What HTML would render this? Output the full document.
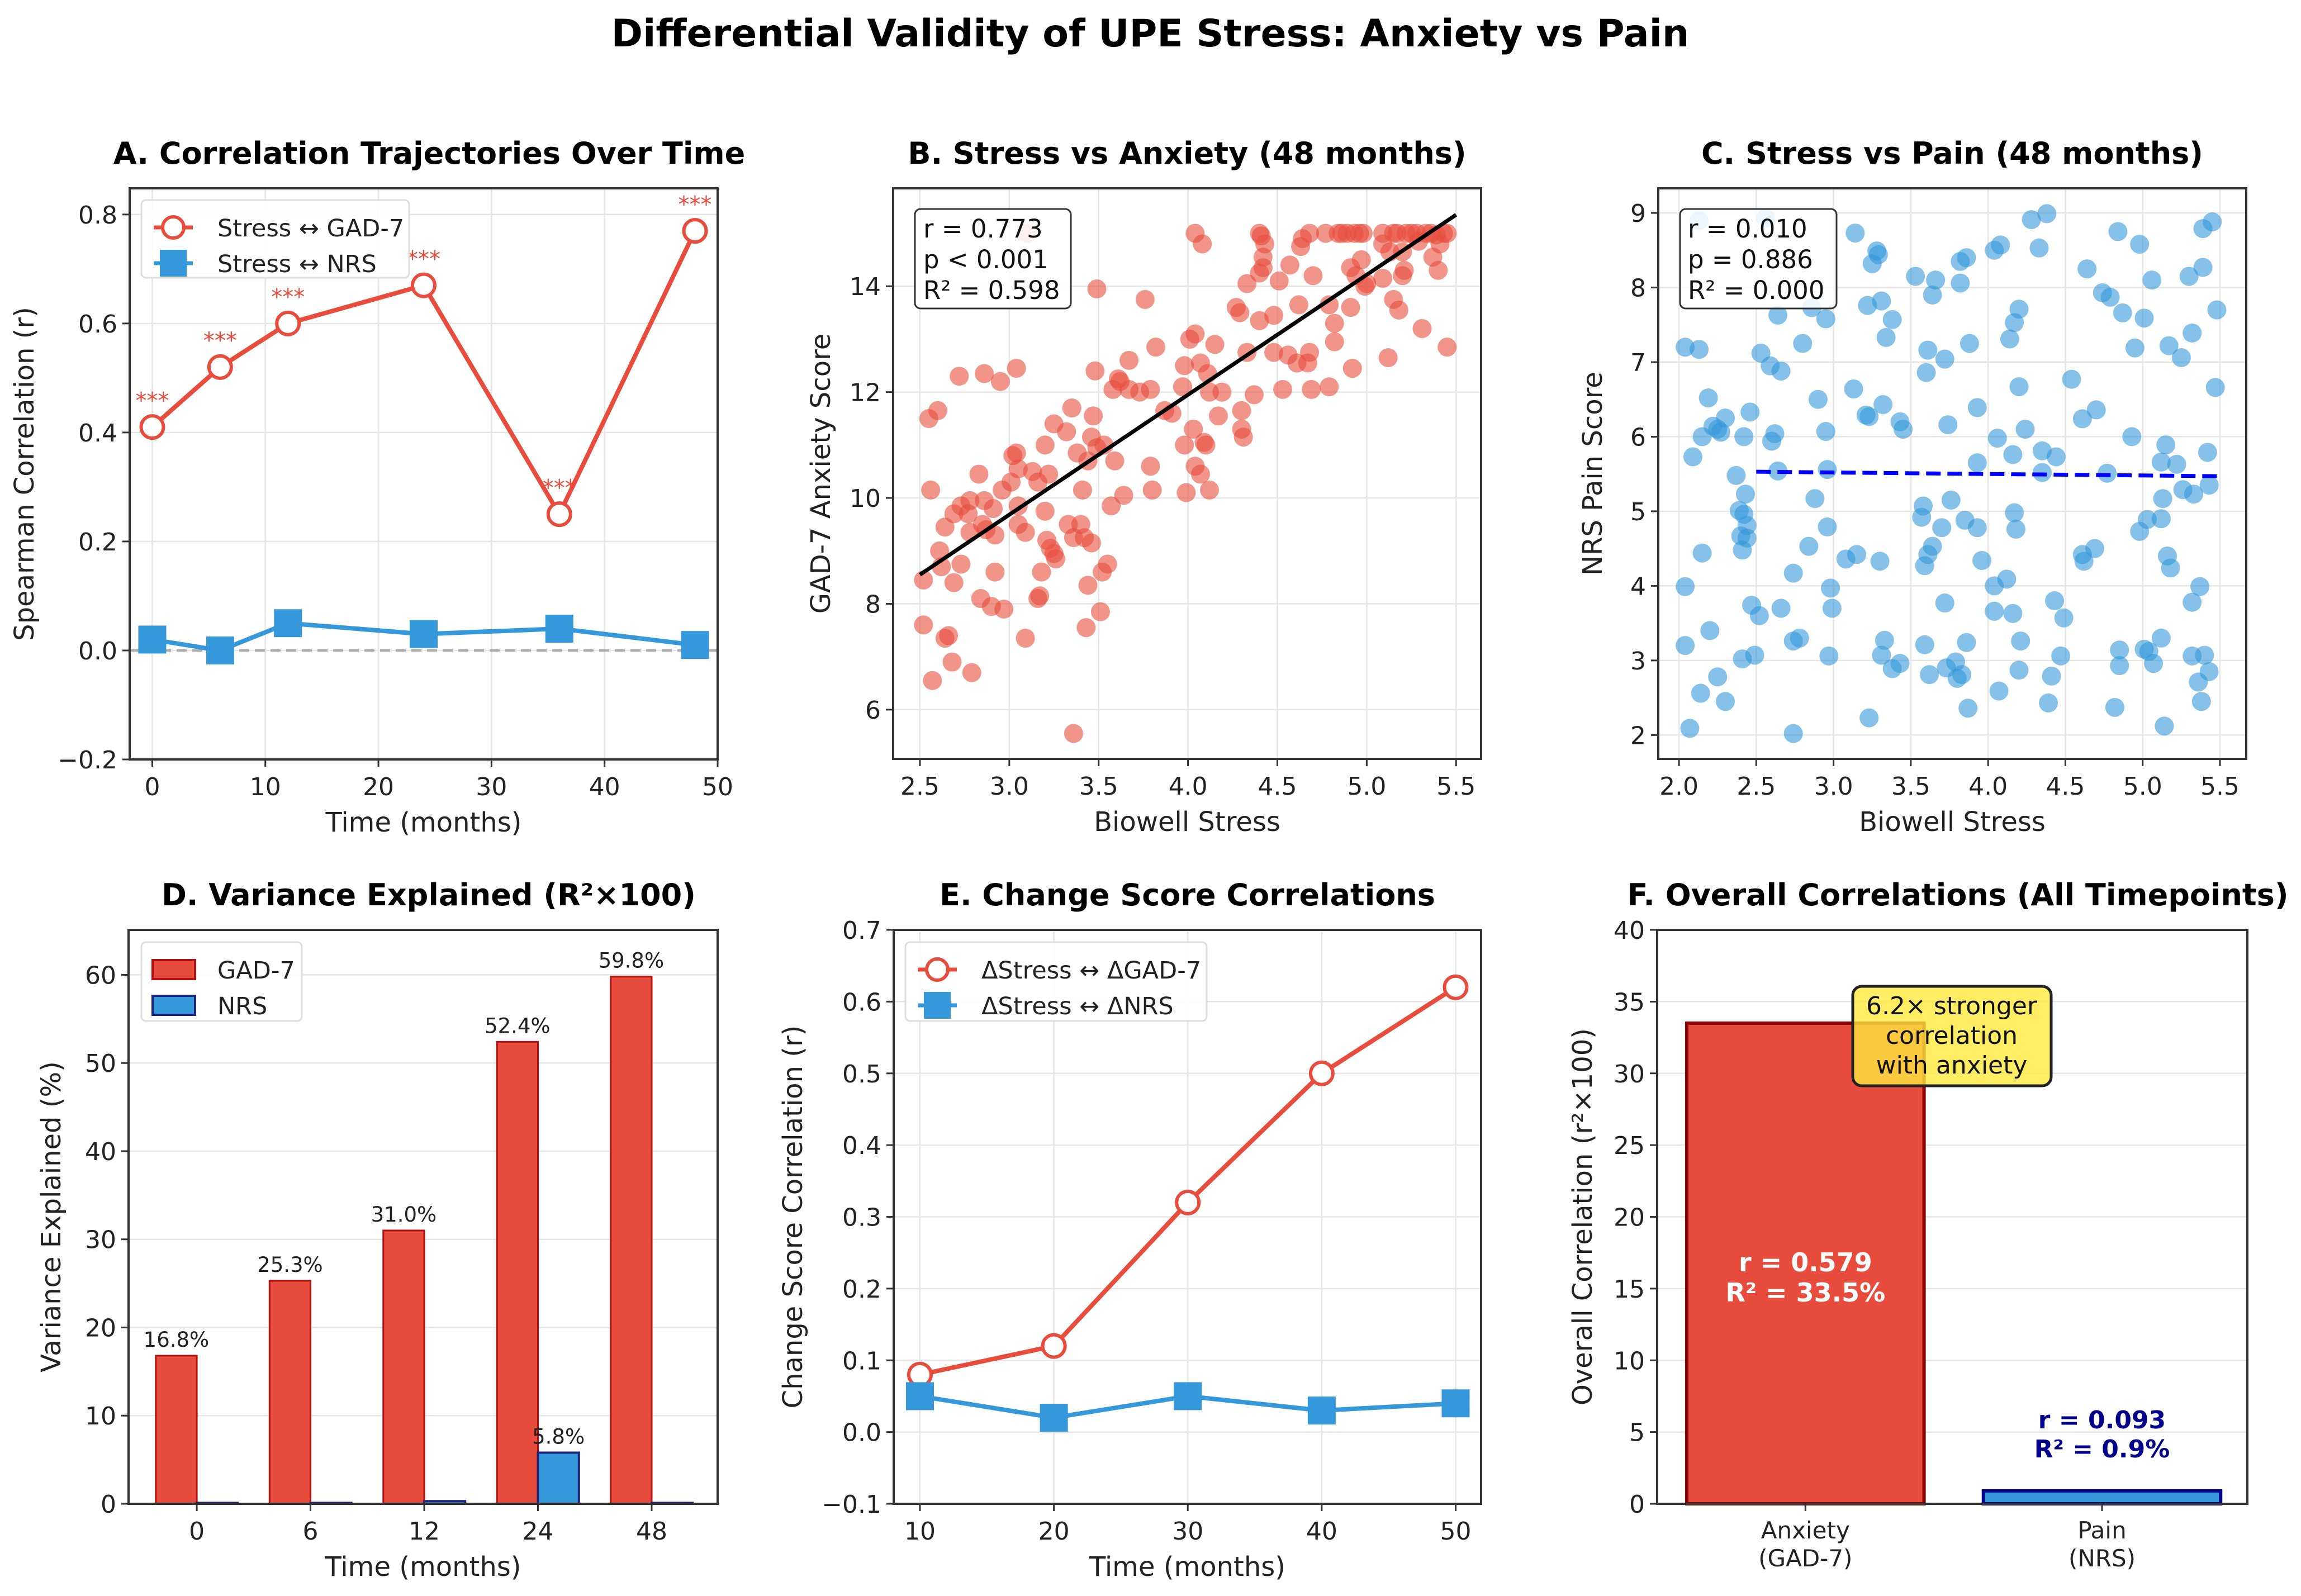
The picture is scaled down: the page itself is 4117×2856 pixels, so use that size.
<!DOCTYPE html>
<html><head><meta charset="utf-8">
<style>
html,body{margin:0;padding:0;background:#fff;}
svg{display:block;font-family:"DejaVu Sans","Liberation Sans",sans-serif;}
</style></head>
<body>
<svg id="fig" xmlns="http://www.w3.org/2000/svg" width="4117" height="2856" viewBox="0 0 4117 2856">
<rect width="4117" height="2856" fill="#fff"/>
<text x="2058" y="83" font-size="68" font-weight="bold" text-anchor="middle" fill="#000">Differential Validity of UPE Stress: Anxiety vs Pain</text>
</svg>
<script>
// ---------- Panel A data ----------
const aTimes = [0, 6, 12, 24, 36, 48];
const aGad = [0.41, 0.52, 0.60, 0.67, 0.25, 0.77];
const aNrs = [0.02, 0.0, 0.05, 0.03, 0.04, 0.01];
const aStars = ["***", "***", "***", "***", "***", "***"];
const aXTicks = [0, 10, 20, 30, 40, 50];
const aYTicks = [-0.2, 0.0, 0.2, 0.4, 0.6, 0.8];
// ---------- Panel B data ----------
const bX = [2.52,2.52,2.57,2.55,2.6,2.56,2.61,2.64,2.62,2.64,2.66,2.68,2.69,2.69,2.73,2.72,2.73,2.77,2.78,2.78,2.79,2.83,2.84,2.85,2.86,2.86,2.87,2.91,2.92,2.92,2.90,2.95,2.96,2.97,3.01,3.02,3.04,3.04,3.05,3.05,3.05,3.09,3.09,3.1,3.13,3.16,3.20,3.20,3.22,3.18,3.16,3.17,3.21,3.23,3.25,3.26,3.25,3.32,3.35,3.33,3.36,3.40,3.38,3.41,3.42,3.44,3.44,3.43,3.46,3.46,3.47,3.48,3.49,3.49,3.51,3.52,3.55,3.36,3.53,3.57,3.59,3.58,3.61,3.62,3.64,3.67,3.67,3.73,3.76,3.79,3.79,3.80,3.82,3.87,3.91,3.97,3.98,3.98,3.99,4.01,4.04,4.03,4.04,4.07,4.07,4.04,4.08,4.09,4.10,4.11,4.12,4.12,4.15,4.17,4.19,4.27,4.29,4.30,4.30,4.31,4.33,4.33,4.37,4.40,4.40,4.41,4.40,4.42,4.43,4.42,4.48,4.48,4.51,4.53,4.56,4.57,4.62,4.61,4.63,4.64,4.68,4.67,4.68,4.69,4.70,4.77,4.79,4.79,4.82,4.82,4.84,4.86,4.89,4.91,4.91,4.93,4.92,4.94,4.96,4.97,4.98,4.99,5.0,5.09,5.09,5.09,5.12,5.13,5.15,5.15,5.17,5.18,5.20,5.21,5.20,5.22,5.25,5.28,5.29,5.31,5.33,5.36,5.37,5.39,5.40,5.41,5.43,5.45,5.45];
const bY = [8.45,7.6,6.55,11.5,11.65,10.15,9.0,9.45,8.7,7.35,7.4,6.9,8.4,9.7,8.75,12.3,9.85,9.7,9.95,9.35,6.7,10.45,8.1,9.5,9.95,12.35,9.4,9.8,9.3,8.6,7.95,12.2,10.15,7.9,10.3,10.8,10.85,12.45,10.55,9.85,9.5,9.35,7.35,15.0,10.5,10.3,11.0,9.75,10.45,8.6,8.1,8.15,9.2,9.05,8.95,8.85,11.4,11.25,11.7,9.5,9.25,9.5,10.85,10.15,9.25,10.7,8.35,7.55,9.15,11.15,11.55,12.4,10.95,13.95,7.85,8.6,8.75,5.55,11.0,9.85,10.7,12.05,12.25,12.2,10.05,12.05,12.6,12.0,13.75,12.05,10.6,10.15,12.85,11.65,11.6,12.1,12.5,11.0,10.1,13.0,13.1,11.3,10.6,10.45,12.55,15.0,14.8,11.05,11.0,12.35,12.0,10.15,12.9,11.55,12.0,13.6,13.5,11.65,11.3,11.15,12.75,14.05,11.95,13.35,15.0,14.95,14.25,14.55,14.8,14.35,13.45,12.75,14.1,12.05,12.7,14.4,13.65,12.55,14.75,14.9,15.0,12.55,12.75,12.05,14.2,15.0,13.65,12.1,13.3,12.95,15.0,15.0,15.0,13.6,14.35,15.0,12.45,14.2,15.0,14.5,15.0,14.0,14.05,15.0,14.8,14.15,12.65,14.65,15.0,13.75,15.0,13.55,14.2,14.3,14.65,15.0,15.0,15.0,14.85,13.2,15.0,15.0,14.55,14.97,14.3,14.8,15.0,12.85,15.0];
const bFitX = [2.5, 5.5];
const bFitY = [8.55, 15.35];
const bXTicks = [2.5, 3.0, 3.5, 4.0, 4.5, 5.0, 5.5];
const bYTicks = [6, 8, 10, 12, 14];
const bStats = ["r = 0.773", "p < 0.001", "R\u00b2 = 0.598"];
// ---------- Panel C data ----------
const cX = [2.04,2.13,2.04,2.04,2.07,2.09,2.13,2.15,2.15,2.14,2.19,2.2,2.22,2.25,2.27,2.30,2.25,2.30,2.37,2.39,2.40,2.41,2.42,2.42,2.43,2.44,2.44,2.46,2.47,2.41,2.49,2.52,2.53,2.59,2.60,2.62,2.64,2.64,2.66,2.66,2.56,2.74,2.74,2.78,2.74,2.80,2.84,2.86,2.90,2.88,2.95,2.95,2.96,2.96,2.98,2.99,2.97,3.08,3.14,3.13,3.15,3.21,3.23,3.22,3.25,3.28,3.29,3.31,3.32,3.30,3.33,3.31,3.38,3.23,3.34,3.38,3.43,3.43,3.45,3.53,3.57,3.58,3.59,3.61,3.64,3.61,3.60,3.59,3.62,3.66,3.64,3.70,3.72,3.72,3.73,3.74,3.76,3.79,3.80,3.83,3.82,3.82,3.86,3.85,3.86,3.88,3.87,3.93,3.93,3.93,3.96,4.04,4.08,4.06,4.04,4.04,4.07,4.12,4.14,4.16,4.16,4.17,4.18,4.17,4.20,4.20,4.20,4.21,4.24,4.28,4.33,4.38,4.35,4.35,4.44,4.43,4.41,4.39,4.49,4.47,4.54,4.61,4.64,4.61,4.62,4.69,4.70,4.74,4.79,4.77,4.84,4.82,4.85,4.85,4.87,4.93,4.95,4.98,4.98,5.01,5.01,5.04,5.03,5.06,5.07,5.12,5.12,5.12,5.13,5.15,5.14,5.16,5.18,5.17,5.22,5.25,5.26,5.30,5.32,5.33,5.32,5.32,5.37,5.36,5.39,5.38,5.39,5.40,5.42,5.43,5.43,5.45,5.47,5.48];
const cY = [7.2,7.17,3.99,3.2,2.09,5.73,8.9,6.0,4.44,2.56,6.52,3.4,6.14,6.1,6.06,6.25,2.78,2.45,5.48,5.01,4.67,4.48,4.96,6.0,5.23,4.81,4.64,6.33,3.74,3.02,3.07,3.6,7.12,6.95,5.94,6.04,5.54,7.63,6.88,3.7,8.93,4.17,3.26,3.3,2.02,7.25,4.53,7.73,6.5,5.17,6.07,7.58,5.56,4.79,3.97,3.7,3.06,4.36,8.73,6.64,4.42,6.29,6.27,7.76,8.32,8.49,8.44,7.82,6.43,4.33,3.27,3.07,2.89,2.23,7.33,7.57,2.96,6.2,6.1,8.15,4.92,5.07,4.27,4.42,4.53,7.16,6.86,3.21,2.81,8.1,7.9,4.78,7.04,3.77,2.9,6.16,5.15,2.98,2.76,2.81,8.35,8.06,8.4,4.88,3.24,7.25,2.36,6.39,5.65,4.78,4.34,8.5,8.57,5.98,4.0,3.66,2.59,4.09,7.31,5.76,3.63,4.98,4.76,7.53,7.71,6.67,2.87,3.26,6.1,8.91,8.53,8.99,5.81,5.52,5.73,3.8,2.79,2.43,3.57,3.06,6.77,6.24,8.25,4.42,4.33,4.5,6.36,7.93,7.87,5.51,8.75,2.37,3.14,2.93,7.66,6.0,7.19,4.73,8.58,7.59,3.15,3.12,4.89,8.1,2.96,4.9,3.3,5.66,5.17,5.89,2.12,4.4,4.24,7.22,5.63,7.06,5.29,8.15,7.39,5.23,3.78,3.06,3.99,2.71,8.27,2.45,8.79,3.07,5.79,5.35,2.85,8.88,6.66,7.7];
const cFitX = [2.5, 5.5];
const cFitY = [5.53, 5.47];
const cXTicks = [2.0, 2.5, 3.0, 3.5, 4.0, 4.5, 5.0, 5.5];
const cYTicks = [2, 3, 4, 5, 6, 7, 8, 9];
const cStats = ["r = 0.010", "p = 0.886", "R\u00b2 = 0.000"];
// ---------- Panel D data ----------
const dCats = ["0", "6", "12", "24", "48"];
const dGad = [16.8, 25.3, 31.0, 52.4, 59.8];
const dNrs = [0.1, 0.1, 0.3, 5.8, 0.1];
const dYTicks = [0, 10, 20, 30, 40, 50, 60];
// ---------- Panel E data ----------
const eTimes = [10, 20, 30, 40, 50];
const eGad = [0.08, 0.12, 0.32, 0.50, 0.62];
const eNrs = [0.05, 0.02, 0.05, 0.03, 0.04];
const eXTicks = [10, 20, 30, 40, 50];
const eYTicks = [-0.1, 0.0, 0.1, 0.2, 0.3, 0.4, 0.5, 0.6, 0.7];
// ---------- Panel F data ----------
const fCats = [["Anxiety", "(GAD-7)"], ["Pain", "(NRS)"]];
const fVals = [33.5, 0.9];
const fR = ["r = 0.579", "r = 0.093"];
const fR2 = ["R\u00b2 = 33.5%", "R\u00b2 = 0.9%"];
const fYTicks = [0, 5, 10, 15, 20, 25, 30, 35, 40];

const NS = "http://www.w3.org/2000/svg";
const svg = document.getElementById("fig");
const RED = "#e74c3c", BLUE = "#3498db";

function mk(tag, attrs, parent, name, inter) {
  const e = document.createElementNS(NS, tag);
  for (const k in attrs) e.setAttribute(k, attrs[k]);
  
  
  (parent || svg).appendChild(e);
  return e;
}
function txt(s, attrs, parent, name) {
  const t = mk("text", attrs, parent, name, false);
  t.textContent = s;
  return t;
}
function fmt(v, d) { const s = v.toFixed(d); return v < 0 ? "\u2212" + s.slice(1) : s; }

function axes(p) {
  const g = mk("g", {}, svg, p.name, false);
  const sx = v => p.l + (v - p.x0) / (p.x1 - p.x0) * (p.r - p.l);
  const sy = v => p.b - (v - p.y0) / (p.y1 - p.y0) * (p.b - p.t);
  const grid = mk("g", {}, g, p.name + "-grid", false);
  if (p.xgrid) p.xt.forEach(v => { mk("line", {x1: sx(v), x2: sx(v), y1: p.t, y2: p.b, stroke: "#e6e6e6", "stroke-width": 2.5}, grid, "x-gridline", false); });
  p.yt.forEach(v => { mk("line", {x1: p.l, x2: p.r, y1: sy(v), y2: sy(v), stroke: "#e6e6e6", "stroke-width": 2.5}, grid, "y-gridline", false); });
  const plot = mk("g", {}, g, p.name + "-plot-area", false);
  const front = mk("g", {}, g, p.name + "-frame", false);
  const xa = mk("g", {}, front, "x-axis", false);
  const xs = p.xpos || p.xt.map(sx);
  xs.forEach((x, i) => {
    mk("line", {x1: x, x2: x, y1: p.b, y2: p.b + 13, stroke: "#333", "stroke-width": 3}, xa, "x-tick", false);
    const lab = p.xl[i];
    if (Array.isArray(lab)) {
      lab.forEach((s, j) => txt(s, {x: x, y: p.b + 62 + j * 50, "font-size": 42, "text-anchor": "middle", fill: "#222"}, xa, "x-tick-label"));
    } else txt(lab, {x: x, y: p.b + 64, "font-size": 44, "text-anchor": "middle", fill: "#222"}, xa, "x-tick-label");
  });
  const ya = mk("g", {}, front, "y-axis", false);
  p.yt.forEach((v, i) => {
    mk("line", {x1: p.l - 13, x2: p.l, y1: sy(v), y2: sy(v), stroke: "#333", "stroke-width": 3}, ya, "y-tick", false);
    txt(p.yl[i], {x: p.l - 22, y: sy(v) + 16, "font-size": 44, "text-anchor": "end", fill: "#222"}, ya, "y-tick-label");
  });
  mk("rect", {x: p.l, y: p.t, width: p.r - p.l, height: p.b - p.t, fill: "none", stroke: "#333", "stroke-width": 4}, front, "axes-frame", false);
  txt(p.title, {x: (p.l + p.r) / 2 + (p.tdx || 0), y: p.t - 44, "font-size": 54, "font-weight": "bold", "text-anchor": "middle", fill: "#000"}, g, "panel-title");
  txt(p.xlabel, {x: (p.l + p.r) / 2, y: p.b + 129, "font-size": 48, "text-anchor": "middle", fill: "#222"}, g, "x-axis-title");
  const yc = (p.t + p.b) / 2;
  txt(p.ylabel, {x: p.ylx, y: yc, "font-size": 48, "text-anchor": "middle", fill: "#222", transform: "rotate(-90 " + p.ylx + " " + yc + ")"}, g, "y-axis-title");
  return {g, plot, front, sx, sy};
}

function legend(parent, x, y, w, h, items, name) {
  const g = mk("g", {}, parent, name, true);
  mk("rect", {x: x, y: y, width: w, height: h, rx: 8, fill: "#fff", "fill-opacity": 0.85, stroke: "#dddddd", "stroke-width": 3}, g, "legend-frame", false);
  items.forEach((it, i) => {
    const cy = y + 49 + i * 64, mx = x + 57;
    const eg = mk("g", {}, g, "legend-entry", true);
    if (it.type === "patch") {
      mk("rect", {x: x + 20, y: cy - 17, width: 76, height: 34, fill: it.color, stroke: it.edge, "stroke-width": 4}, eg, "legend-swatch", false);
    } else {
      mk("line", {x1: x + 22, x2: x + 92, y1: cy, y2: cy, stroke: it.color, "stroke-width": 7}, eg, "legend-line", false);
      if (it.type === "circle") mk("circle", {cx: mx, cy: cy, r: 19, fill: "#fff", stroke: it.color, "stroke-width": 6}, eg, "legend-marker", false);
      else mk("rect", {x: mx - 24, y: cy - 24, width: 48, height: 48, fill: it.color}, eg, "legend-marker", false);
    }
    txt(it.label, {x: x + 136, y: cy + 16, "font-size": 43, fill: "#222"}, eg, "legend-label");
  });
}

function lineSeries(ax, xs, ys, color, marker, name) {
  const g = mk("g", {}, ax.plot, name, false);
  const pts = xs.map((x, i) => ax.sx(x) + "," + ax.sy(ys[i])).join(" ");
  mk("polyline", {points: pts, fill: "none", stroke: color, "stroke-width": 8, "stroke-linejoin": "round"}, g, name + "-line", false);
  xs.forEach((x, i) => {
    if (marker === "circle") mk("circle", {cx: ax.sx(x), cy: ax.sy(ys[i]), r: 20, fill: "#fff", stroke: color, "stroke-width": 6}, g, name + "-point", true);
    else mk("rect", {x: ax.sx(x) - 25, y: ax.sy(ys[i]) - 25, width: 50, height: 50, fill: color}, g, name + "-point", true);
  });
}

// ================= Panel A =================
(function(){
  const ax = axes({name: "panel-a", l: 232, r: 1284, t: 337, b: 1359, x0: -2, x1: 50, y0: -0.2, y1: 0.848,
    xt: aXTicks, xl: aXTicks.map(v => String(v)), yt: aYTicks, yl: aYTicks.map(v => fmt(v, 1)), xgrid: true,
    title: "A. Correlation Trajectories Over Time", xlabel: "Time (months)", ylabel: "Spearman Correlation (r)", ylx: 60, tdx: 10});
  mk("line", {x1: 232, x2: 1284, y1: ax.sy(0), y2: ax.sy(0), stroke: "#aaaaaa", "stroke-width": 4, "stroke-dasharray": "18 10"}, ax.plot, "zero-reference-line", false);
  lineSeries(ax, aTimes, aGad, RED, "circle", "stress-gad7-series");
  lineSeries(ax, aTimes, aNrs, BLUE, "square", "stress-nrs-series");
  aTimes.forEach((t, i) => {
    txt(aStars[i], {x: ax.sx(t), y: ax.sy(aGad[i] + 0.055) + 20, "font-size": 40, fill: RED, "text-anchor": "middle"}, ax.plot, "significance-stars");
  });
  legend(ax.plot, 253, 358, 479, 139, [{type: "circle", color: RED, label: "Stress \u2194 GAD-7"}, {type: "square", color: BLUE, label: "Stress \u2194 NRS"}], "legend");
})();

// ================= Panel B =================
(function(){
  const ax = axes({name: "panel-b", l: 1598, r: 2650, t: 337, b: 1358, x0: 2.35, x1: 5.64, y0: 5.07, y1: 15.85,
    xt: bXTicks, xl: bXTicks.map(v => v.toFixed(1)), yt: bYTicks, yl: bYTicks.map(v => String(v)), xgrid: true,
    title: "B. Stress vs Anxiety (48 months)", xlabel: "Biowell Stress", ylabel: "GAD-7 Anxiety Score", ylx: 1485});
  const g = mk("g", {}, ax.plot, "anxiety-scatter", false);
  bX.forEach((x, i) => { mk("circle", {cx: ax.sx(x), cy: ax.sy(bY[i]), r: 17, fill: RED, "fill-opacity": 0.6}, g, "scatter-point", true); });
  mk("line", {x1: ax.sx(bFitX[0]), y1: ax.sy(bFitY[0]), x2: ax.sx(bFitX[1]), y2: ax.sy(bFitY[1]), stroke: "#000", "stroke-width": 7}, ax.plot, "regression-line", false);
  const sg = mk("g", {}, ax.plot, "stats-box", false);
  mk("rect", {x: 1637, y: 374, width: 279, height: 178, rx: 10, fill: "#fff", "fill-opacity": 0.85, stroke: "#333", "stroke-width": 3}, sg, "stats-frame", false);
  bStats.forEach((s, i) => txt(s, {x: 1652, y: 425 + i * 55, "font-size": 45, fill: "#111"}, sg, "stats-text"));
})();

// ================= Panel C =================
(function(){
  const ax = axes({name: "panel-c", l: 2967, r: 4019, t: 337, b: 1358, x0: 1.866, x1: 5.67, y0: 1.68, y1: 9.33,
    xt: cXTicks, xl: cXTicks.map(v => v.toFixed(1)), yt: cYTicks, yl: cYTicks.map(v => String(v)), xgrid: true,
    title: "C. Stress vs Pain (48 months)", xlabel: "Biowell Stress", ylabel: "NRS Pain Score", ylx: 2866});
  const g = mk("g", {}, ax.plot, "pain-scatter", false);
  cX.forEach((x, i) => { mk("circle", {cx: ax.sx(x), cy: ax.sy(cY[i]), r: 17, fill: BLUE, "fill-opacity": 0.6}, g, "scatter-point", true); });
  mk("line", {x1: ax.sx(cFitX[0]), y1: ax.sy(cFitY[0]), x2: ax.sx(cFitX[1]), y2: ax.sy(cFitY[1]), stroke: "#0000ff", "stroke-width": 7, "stroke-dasharray": "26 12"}, ax.plot, "regression-line", false);
  const sg = mk("g", {}, ax.plot, "stats-box", false);
  mk("rect", {x: 3006, y: 374, width: 280, height: 178, rx: 10, fill: "#fff", "fill-opacity": 0.85, stroke: "#333", "stroke-width": 3}, sg, "stats-frame", false);
  cStats.forEach((s, i) => txt(s, {x: 3020, y: 425 + i * 55, "font-size": 45, fill: "#111"}, sg, "stats-text"));
})();

// ================= Panel D =================
(function(){
  const x0 = -0.6, x1 = 4.58, l = 230, r = 1284;
  const sxc = v => l + (v - x0) / (x1 - x0) * (r - l);
  const ax = axes({name: "panel-d", l: l, r: r, t: 1664, b: 2691, x0: x0, x1: x1, y0: 0, y1: 65.1,
    xt: dCats.map((c, i) => i), xl: dCats, yt: dYTicks, yl: dYTicks.map(v => String(v)), xgrid: false,
    title: "D. Variance Explained (R\u00b2\u00d7100)", xlabel: "Time (months)", ylabel: "Variance Explained (%)", ylx: 108, tdx: 10});
  const w = 0.36;
  const g1 = mk("g", {}, ax.plot, "gad7-bars", false);
  const g2 = mk("g", {}, ax.plot, "nrs-bars", false);
  dCats.forEach((c, i) => {
    const xa = sxc(i - w), xb = sxc(i), xc = sxc(i + w);
    mk("rect", {x: xa, y: ax.sy(dGad[i]), width: xb - xa, height: ax.sy(0) - ax.sy(dGad[i]), fill: RED, stroke: "#b01010", "stroke-width": 3}, g1, "bar-gad7-" + c, true);
    txt(dGad[i].toFixed(1) + "%", {x: (xa + xb) / 2, y: ax.sy(dGad[i]) - 16, "font-size": 37, "text-anchor": "middle", fill: "#222"}, g1, "bar-value-label");
    mk("rect", {x: xb, y: ax.sy(dNrs[i]), width: xc - xb, height: Math.max(ax.sy(0) - ax.sy(dNrs[i]), 1), fill: BLUE, stroke: "#1a237e", "stroke-width": 4}, g2, "bar-nrs-" + c, true);
    if (dNrs[i] > 1) txt(dNrs[i].toFixed(1) + "%", {x: (xb + xc) / 2, y: ax.sy(dNrs[i]) - 16, "font-size": 37, "text-anchor": "middle", fill: "#222"}, g2, "bar-value-label");
  });
  legend(ax.plot, 253, 1686, 287, 141, [{type: "patch", color: RED, edge: "#b01010", label: "GAD-7"}, {type: "patch", color: BLUE, edge: "#1a237e", label: "NRS"}], "legend");
})();

// ================= Panel E =================
(function(){
  const ax = axes({name: "panel-e", l: 1599, r: 2650, t: 1664, b: 2691, x0: 8.04, x1: 51.9, y0: -0.1, y1: 0.7,
    xt: eXTicks, xl: eXTicks.map(v => String(v)), yt: eYTicks, yl: eYTicks.map(v => fmt(v, 1)), xgrid: true,
    title: "E. Change Score Correlations", xlabel: "Time (months)", ylabel: "Change Score Correlation (r)", ylx: 1435});
  lineSeries(ax, eTimes, eGad, RED, "circle", "delta-gad7-series");
  lineSeries(ax, eTimes, eNrs, BLUE, "square", "delta-nrs-series");
  legend(ax.plot, 1620, 1686, 539, 141, [{type: "circle", color: RED, label: "\u0394Stress \u2194 \u0394GAD-7"}, {type: "square", color: BLUE, label: "\u0394Stress \u2194 \u0394NRS"}], "legend");
})();

// ================= Panel F =================
(function(){
  const x0 = -0.5, x1 = 1.49, l = 2965, r = 4021;
  const sxc = v => l + (v - x0) / (x1 - x0) * (r - l);
  const ax = axes({name: "panel-f", l: l, r: r, t: 1664, b: 2691, x0: x0, x1: x1, y0: 0, y1: 40,
    xt: [0, 1], xpos: [sxc(0), sxc(1)], xl: fCats, yt: fYTicks, yl: fYTicks.map(v => String(v)), xgrid: false,
    title: "F. Overall Correlations (All Timepoints)", xlabel: "", ylabel: "Overall Correlation (r\u00b2\u00d7100)", ylx: 2848, tdx: 10});
  const fills = [RED, BLUE], edges = ["#8b0000", "#00008b"], tcol = ["#ffffff", "#00008b"];
  const g = mk("g", {}, ax.plot, "overall-bars", false);
  fVals.forEach((v, i) => {
    const xa = sxc(i - 0.4), xb = sxc(i + 0.4);
    mk("rect", {x: xa, y: ax.sy(v), width: xb - xa, height: ax.sy(0) - ax.sy(v), fill: fills[i], stroke: edges[i], "stroke-width": 6}, g, i === 0 ? "bar-anxiety" : "bar-pain", true);
  });
  txt(fR[0], {x: sxc(0), y: ax.sy(fVals[0] / 2) + 14, "font-size": 46, "font-weight": "bold", fill: tcol[0], "text-anchor": "middle"}, g, "bar-label-r");
  txt(fR2[0], {x: sxc(0), y: ax.sy(fVals[0] / 2) + 68, "font-size": 46, "font-weight": "bold", fill: tcol[0], "text-anchor": "middle"}, g, "bar-label-r2");
  txt(fR[1], {x: sxc(1), y: ax.sy(fVals[1] + 5.6) + 32, "font-size": 44, "font-weight": "bold", fill: tcol[1], "text-anchor": "middle"}, g, "bar-label-r");
  txt(fR2[1], {x: sxc(1), y: ax.sy(fVals[1] + 5.6) + 84, "font-size": 44, "font-weight": "bold", fill: tcol[1], "text-anchor": "middle"}, g, "bar-label-r2");
  const ag = mk("g", {}, ax.plot, "ratio-annotation", false);
  mk("rect", {x: 3315, y: 1765, width: 355, height: 178, rx: 16, fill: "#ffe93d", "fill-opacity": 0.8, stroke: "#222", "stroke-width": 5}, ag, "annotation-box", false);
  const ratio = (fR[0].slice(4) / fR[1].slice(4)).toFixed(1);
  [ratio + "\u00d7 stronger", "correlation", "with anxiety"].forEach((s, i) => txt(s, {x: 3492, y: 1815 + i * 53, "font-size": 44, "text-anchor": "middle", fill: "#111"}, ag, "annotation-text"));
})();
</script>
</body></html>
